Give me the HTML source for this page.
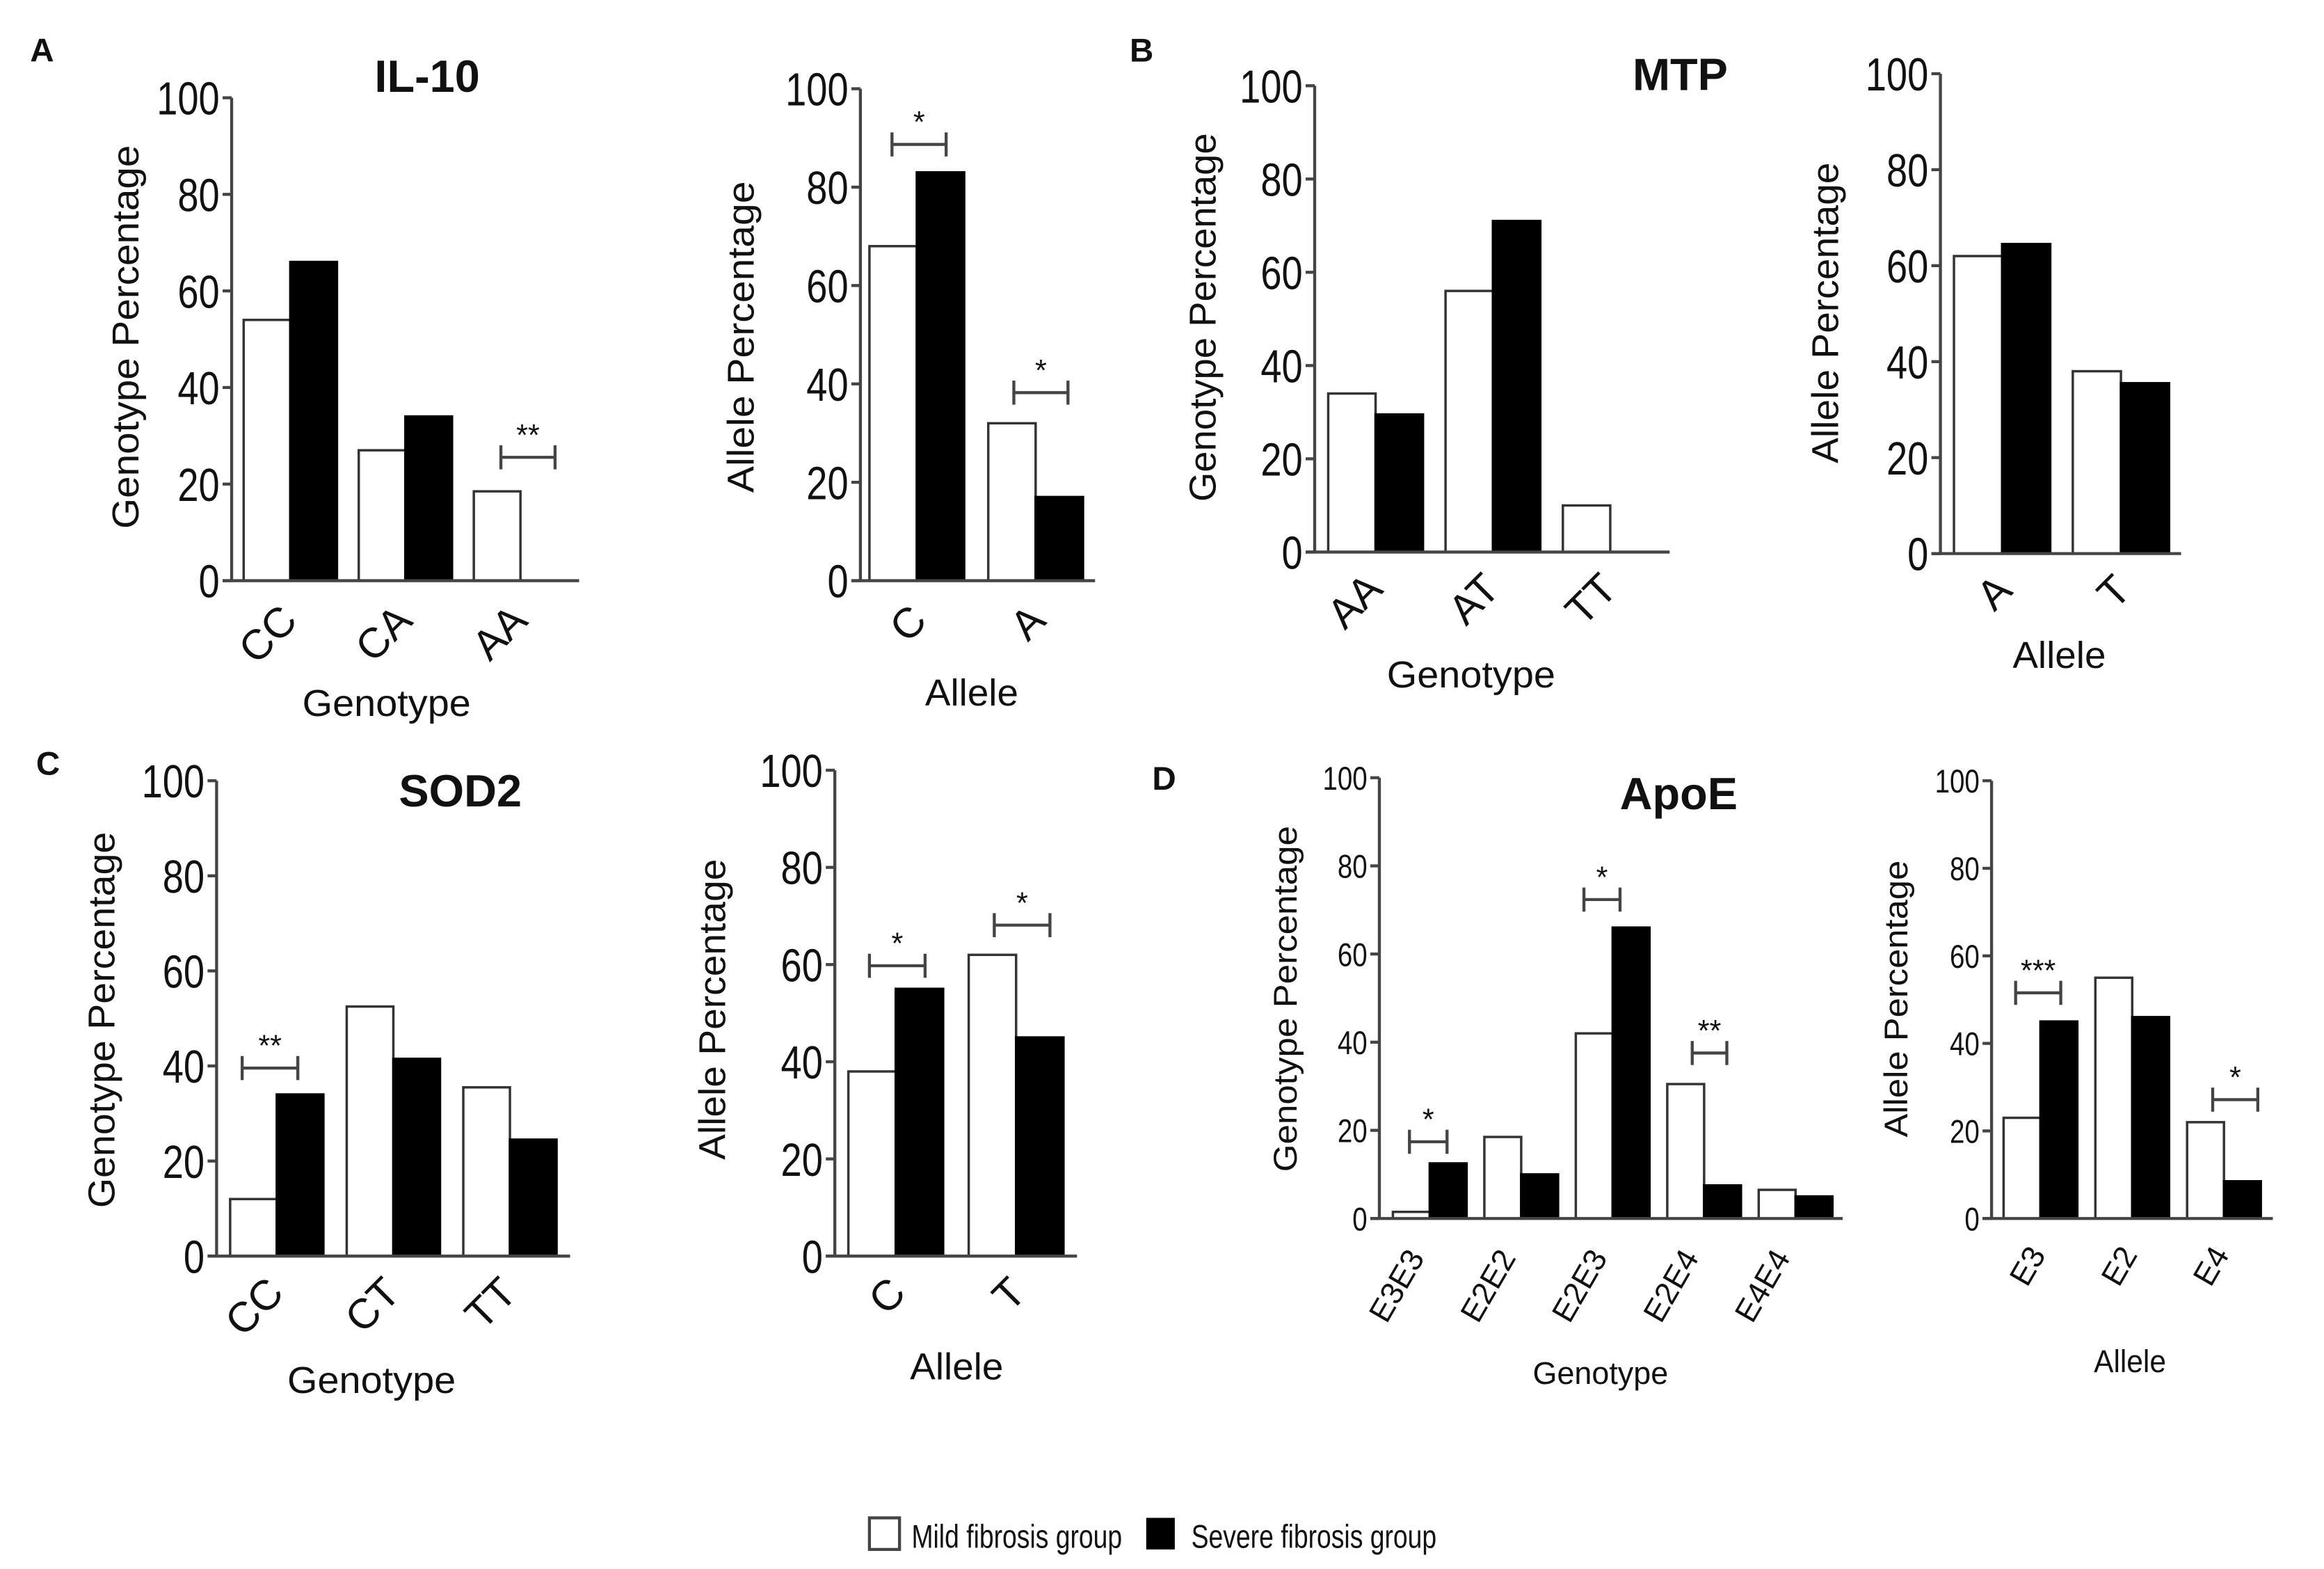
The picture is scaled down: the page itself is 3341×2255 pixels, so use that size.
<!DOCTYPE html>
<html><head><meta charset="utf-8"><style>
html,body{margin:0;padding:0;background:#fff;}
svg{display:block;}
text{font-family:"Liberation Sans",Arial,sans-serif;fill:#111;}
</style></head><body>
<svg id="chart" width="3341" height="2255" viewBox="0 0 1545 1043" preserveAspectRatio="none" xmlns="http://www.w3.org/2000/svg"></svg>
<script>
// ---- data ----
const il10GenoCats = ["CC","CA","AA"];
const il10GenoMild = [54,27,18.5];
const il10GenoSevere = [66,34,0];
const il10AlleleCats = ["C","A"];
const il10AlleleMild = [68,32];
const il10AlleleSevere = [83,17];
const mtpGenoCats = ["AA","AT","TT"];
const mtpGenoMild = [34,56,10];
const mtpGenoSevere = [29.5,71,0];
const mtpAlleleCats = ["A","T"];
const mtpAlleleMild = [62,38];
const mtpAlleleSevere = [64.5,35.5];
const sodGenoCats = ["CC","CT","TT"];
const sodGenoMild = [12,52.5,35.5];
const sodGenoSevere = [34,41.5,24.5];
const sodAlleleCats = ["C","T"];
const sodAlleleMild = [38,62];
const sodAlleleSevere = [55,45];
const apoeGenoCats = ["E3E3","E2E2","E2E3","E2E4","E4E4"];
const apoeGenoMild = [1.5,18.5,42,30.5,6.5];
const apoeGenoSevere = [12.5,10,66,7.5,5];
const apoeAlleleCats = ["E3","E2","E4"];
const apoeAlleleMild = [23,55,22];
const apoeAlleleSevere = [45,46,8.5];
const yTicks = [0,20,40,60,80,100];
const yTickLabels = ["0","20","40","60","80","100"];

const svg = document.getElementById('chart');
const NS = "http://www.w3.org/2000/svg";
function mk(tag, attrs, parent){
  const e = document.createElementNS(NS, tag);
  for (const k in attrs) e.setAttribute(k, attrs[k]);
  (parent||svg).appendChild(e);
  return e;
}
function txt(s, attrs, parent){ const t = mk('text', attrs, parent); t.textContent = s; return t; }

function panel(p){
  const g = mk('g', {});
  
  
  const yScale = v => p.y0 + (p.y100 - p.y0) * v / 100;
  const bw = p.bw;
  const gx = i => p.first + i * p.pitch;
  // bars
  p.cats.forEach((c, i) => {
    const vals = [p.mild[i], p.severe[i]];
    vals.forEach((v, j) => {
      if (v <= 0) return;
      const r = mk('rect', {x: gx(i) + j*bw, y: yScale(v), width: bw, height: p.y0 - yScale(v),
        fill: j ? '#000' : '#fff', stroke: j ? '#000' : '#333', 'stroke-width': 1.6}, g);
      
      
    });
    const lx = gx(i) + bw + p.ldx, ly = p.y0 + p.ldy;
    const t = txt(c, {x: lx, y: ly, 'font-size': p.cfs, 'text-anchor': 'end',
      transform: `rotate(${p.rot} ${lx} ${ly})`}, g);
    
    
  });
  // axes
  const ya = mk('line', {x1: p.x0, y1: p.y100, x2: p.x0, y2: p.y0, stroke: '#444', 'stroke-width': 2}, g);
  
  
  const xa = mk('line', {x1: p.x0 - 6, y1: p.y0, x2: p.xEnd, y2: p.y0, stroke: '#444', 'stroke-width': 2}, g);
  
  
  yTicks.forEach((v, k) => {
    const y = yScale(v);
    mk('line', {x1: p.x0 - 6, y1: y, x2: p.x0, y2: y, stroke: '#444', 'stroke-width': 2}, g);
    const lab = yTickLabels[k];
    const t = txt(lab, {x: p.x0 - 8, y: y + p.tfs*0.36, 'font-size': p.tfs, 'text-anchor': 'end',
      textLength: lab.length * p.tfs * 0.45, lengthAdjust: 'spacingAndGlyphs', fill: '#222'}, g);
    
    
  });
  const yt = txt(p.ytitle, {x: p.ytx, y: p.yty, 'font-size': p.yfs, 'text-anchor': 'middle',
    textLength: p.ytl, lengthAdjust: 'spacingAndGlyphs', transform: `rotate(-90 ${p.ytx} ${p.yty})`}, g);
  
  
  const xt = txt(p.xtitle, {x: p.xtx, y: p.xty, 'font-size': p.xfs, 'text-anchor': 'middle',
    textLength: p.xtl, lengthAdjust: 'spacingAndGlyphs'}, g);
  
  
  (p.sig || []).forEach(s => {
    const sg = mk('g', {stroke: '#444', 'stroke-width': 2}, g);
    
    
    mk('line', {x1: s[0], y1: s[2], x2: s[1], y2: s[2]}, sg);
    mk('line', {x1: s[0], y1: s[2]-8, x2: s[0], y2: s[2]+8}, sg);
    mk('line', {x1: s[1], y1: s[2]-8, x2: s[1], y2: s[2]+8}, sg);
    const st = txt(s[3], {x: (s[0]+s[1])/2, y: s[2] - 8, 'font-size': 20, 'text-anchor': 'middle', fill: '#222'}, g);
    
    
  });
}

const big = {tfs: 31, cfs: 28, yfs: 25, xfs: 25, rot: -45};
panel(Object.assign({}, big, {name:'il10-genotype-chart', cats: il10GenoCats, mild: il10GenoMild, severe: il10GenoSevere,
  x0:154, xEnd:385, y0:386, y100:65, first:162, pitch:76.5, bw:31, ldx:6, ldy:28,
  ytitle:'Genotype Percentage', ytx:92, yty:224, ytl:255, xtitle:'Genotype', xtx:257, xty:476, xtl:112,
  sig:[[333,369,304,'**']]}));
panel(Object.assign({}, big, {name:'il10-allele-chart', cats: il10AlleleCats, mild: il10AlleleMild, severe: il10AlleleSevere,
  x0:572, xEnd:728, y0:386, y100:59, first:578, pitch:79, bw:31.5, ldx:8, ldy:28,
  ytitle:'Allele Percentage', ytx:501, yty:224, ytl:207, xtitle:'Allele', xtx:646, xty:469, xtl:62,
  sig:[[593,629,96,'*'],[674,710,261,'*']]}));
panel(Object.assign({}, big, {name:'mtp-genotype-chart', cats: mtpGenoCats, mild: mtpGenoMild, severe: mtpGenoSevere,
  x0:874, xEnd:1110, y0:367, y100:57, first:883, pitch:78, bw:31.5, ldx:6, ldy:26,
  ytitle:'Genotype Percentage', ytx:808, yty:211, ytl:245, xtitle:'Genotype', xtx:978, xty:457, xtl:112}));
panel(Object.assign({}, big, {name:'mtp-allele-chart', cats: mtpAlleleCats, mild: mtpAlleleMild, severe: mtpAlleleSevere,
  x0:1290, xEnd:1450, y0:368, y100:49, first:1299, pitch:79, bw:32, ldx:8, ldy:26,
  ytitle:'Allele Percentage', ytx:1222, yty:208, ytl:200, xtitle:'Allele', xtx:1369, xty:444, xtl:62}));
panel(Object.assign({}, big, {name:'sod2-genotype-chart', cats: sodGenoCats, mild: sodGenoMild, severe: sodGenoSevere,
  x0:144, xEnd:379, y0:835, y100:519, first:153, pitch:77.5, bw:31, ldx:6, ldy:26,
  ytitle:'Genotype Percentage', ytx:76, yty:678, ytl:250, xtitle:'Genotype', xtx:247, xty:926, xtl:112,
  sig:[[161,198,710,'**']]}));
panel(Object.assign({}, big, {name:'sod2-allele-chart', cats: sodAlleleCats, mild: sodAlleleMild, severe: sodAlleleSevere,
  x0:555, xEnd:716, y0:835, y100:512, first:564, pitch:80, bw:31.5, ldx:8, ldy:26,
  ytitle:'Allele Percentage', ytx:482, yty:671, ytl:200, xtitle:'Allele', xtx:636, xty:917, xtl:62,
  sig:[[578,615,642,'*'],[661,698,615,'*']]}));
const small = {tfs: 22, cfs: 21, yfs: 22, xfs: 21, rot: -60};
panel(Object.assign({}, small, {name:'apoe-genotype-chart', cats: apoeGenoCats, mild: apoeGenoMild, severe: apoeGenoSevere,
  x0:917, xEnd:1225, y0:810, y100:517, first:926, pitch:60.8, bw:24.5, ldx:-3, ldy:26,
  ytitle:'Genotype Percentage', ytx:862, yty:664, ytl:230, xtitle:'Genotype', xtx:1064, xty:920, xtl:90,
  sig:[[937,962,759,'*'],[1053,1077,598,'*'],[1125,1148,700,'**']]}));
panel(Object.assign({}, small, {name:'apoe-allele-chart', cats: apoeAlleleCats, mild: apoeAlleleMild, severe: apoeAlleleSevere,
  x0:1324, xEnd:1511, y0:810, y100:519, first:1332, pitch:61, bw:24.5, ldx:4, ldy:24,
  ytitle:'Allele Percentage', ytx:1268, yty:664, ytl:184, xtitle:'Allele', xtx:1416, xty:912, xtl:48,
  sig:[[1340,1370,660,'***'],[1471,1501,731,'*']]}));
</script>
<svg style="position:absolute;left:0;top:0" width="3341" height="2255" viewBox="0 0 1545 1043" preserveAspectRatio="none" xmlns="http://www.w3.org/2000/svg">
  <text x="20" y="41" font-size="22" font-weight="bold">A</text>
  <text x="751" y="41" font-size="22" font-weight="bold">B</text>
  <text x="24" y="515" font-size="22" font-weight="bold">C</text>
  <text x="766" y="525" font-size="22" font-weight="bold">D</text>
  <text x="284" y="61" font-size="30" font-weight="bold" text-anchor="middle">IL-10</text>
  <text x="1117" y="60" font-size="30" font-weight="bold" text-anchor="middle">MTP</text>
  <text x="306" y="536" font-size="30" font-weight="bold" text-anchor="middle">SOD2</text>
  <text x="1116" y="538" font-size="30" font-weight="bold" text-anchor="middle">ApoE</text>
  <g>
    <rect x="578" y="1009" width="20" height="21" fill="#fff" stroke="#444" stroke-width="2"/>
    <text x="606" y="1029" font-size="22" textLength="140" lengthAdjust="spacingAndGlyphs" fill="#222">Mild fibrosis group</text>
    <rect x="762" y="1009" width="19" height="21" fill="#000"/>
    <text x="792" y="1029" font-size="22" textLength="163" lengthAdjust="spacingAndGlyphs" fill="#222">Severe fibrosis group</text>
  </g>
</svg>
</body></html>
